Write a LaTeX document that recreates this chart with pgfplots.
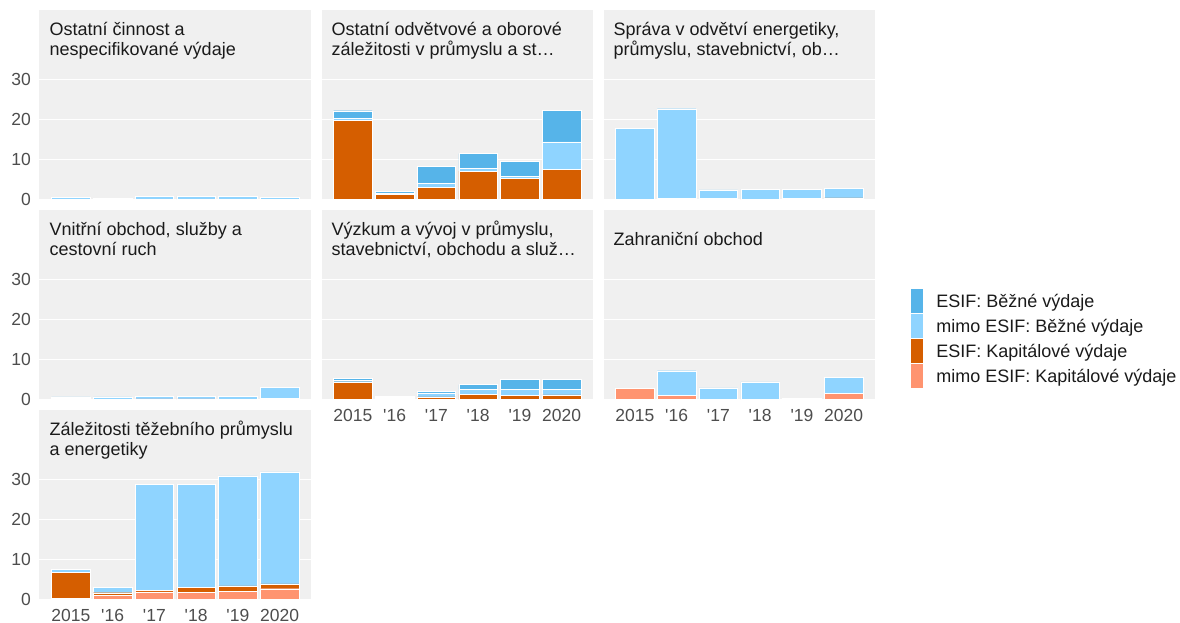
\documentclass[border=0pt]{standalone}
\usepackage{fontspec}
\setmainfont{Liberation Sans}[Ligatures=TeXOff]
\usepackage{pgfplots}
\pgfplotsset{compat=1.18}
\usepackage{pgfplotstable}

\definecolor{esifb}{HTML}{56B4E9}
\definecolor{mimob}{HTML}{8FD4FF}
\definecolor{esifk}{HTML}{D55E00}
\definecolor{mimok}{HTML}{FF9470}
\definecolor{panelbg}{HTML}{F0F0F0}
\definecolor{titlec}{HTML}{1A1A1A}
\definecolor{tickc}{HTML}{4D4D4D}

% columns: year index, mimo ESIF kapitalove, ESIF kapitalove, mimo ESIF bezne, ESIF bezne
\pgfplotstableread{
x mk ek mb eb
1 0    0 0.55 0
2 0.4  0 0    0
3 0    0 0.8  0
4 0    0 0.8  0
5 0    0 0.8  0
6 0    0 0.55 0
}\tA
\pgfplotstableread{
x mk ek mb eb
1 0 19.8 0.5  1.9
2 0 1.25 0.4  0.45
3 0 3.0  1.0  4.3
4 0 7.1  0.65 3.75
5 0 5.25 0.55 3.8
6 0 7.5  6.9  7.9
}\tB
\pgfplotstableread{
x mk ek mb eb
1 0.1  0    17.7  0
2 0.35 0    22.35 0
3 0.3  0    2.1   0
4 0.1  0    2.45  0
5 0    0.25 2.3   0
6 0    0.4  2.4   0
}\tC
\pgfplotstableread{
x mk ek mb eb
1 0.3  0 0.35 0
2 0.1  0 0.55 0
3 0.15 0 0.65 0
4 0.15 0 0.65 0
5 0.1  0 0.7  0
6 0.3  0 2.8  0
}\tD
\pgfplotstableread{
x mk ek mb eb
1 0 4.4  0.35 0.55
2 0 0.25 0.3  0.2
3 0 0.65 1.0  0.35
4 0 1.3  1.3  1.15
5 0 1.1  1.4  2.5
6 0 1.15 1.35 2.5
}\tE
\pgfplotstableread{
x mk ek mb eb
1 2.8 0 0    0
2 1.1 0 6.1  0
3 0   0 2.9  0
4 0   0 4.4  0
5 0   0 0.25 0
6 1.6 0 3.9  0
}\tF
\pgfplotstableread{
x mk ek mb eb
1 0.25 6.5  0.75  0
2 1.1  0.6  1.3   0
3 1.9  0.35 26.5  0
4 1.75 1.25 25.75 0
5 2.1  1.3  27.5  0
6 2.7  1.2  28.0  0
}\tG

\newcommand{\stackplots}[1]{%
  \addplot[fill=mimok] table[x=x,y=mk]{#1};
  \addplot[fill=esifk] table[x=x,y=ek]{#1};
  \addplot[fill=mimob] table[x=x,y=mb]{#1};
  \addplot[fill=esifb] table[x=x,y=eb]{#1};
}

\pgfplotsset{
  panel/.style={
    scale only axis, width=271.5pt, height=189.5pt,
    anchor=south west,
    xmin=0.25, xmax=6.75, ymin=0, ymax=47.4,
    ybar stacked, bar width=0.92,
    every axis plot/.append style={draw=white, line width=0.4pt},
    axis background/.style={fill=panelbg},
    axis line style={draw=none},
    ytick={0,10,20,30}, yticklabels={},
    xtick={1,2,3,4,5,6}, xticklabels={},
    ymajorgrids, grid style={white, line width=1.1pt},
    major tick length=0pt, tick style={draw=none},
    /pgf/number format/assume math mode=true,
    yticklabel style={font=\fontsize{17.5}{20}\selectfont, text=tickc, inner sep=0pt, anchor=east, xshift=-8.5pt},
    xticklabel style={font=\fontsize{17.5}{20}\selectfont, text=tickc, inner sep=0pt, anchor=north, yshift=-10pt},
  },
  yl/.style={yticklabels={0,10,20,30}},
  xl/.style={xticklabels={2015,'16,'17,'18,'19,2020}},
}

\newcommand{\ptitle}[3]{% x, baseline y (pixels from top), text
  \node[anchor=base west, inner sep=0pt, text=titlec, font=\fontsize{18}{20}\selectfont] at (#1pt,-#2pt) {#3};}

\begin{document}
\begin{tikzpicture}
\path[use as bounding box] (0pt,0pt) rectangle (1180pt,-623pt);

% row 1
\begin{axis}[panel, yl, at={(39.5pt,-199.5pt)}]
  \stackplots{\tA}
\end{axis}
\begin{axis}[panel, at={(321.5pt,-199.5pt)}]
  \stackplots{\tB}
\end{axis}
\begin{axis}[panel, at={(603.5pt,-199.5pt)}]
  \stackplots{\tC}
\end{axis}
% row 2
\begin{axis}[panel, yl, at={(39.5pt,-399.5pt)}]
  \stackplots{\tD}
\end{axis}
\begin{axis}[panel, xl, at={(321.5pt,-399.5pt)}]
  \stackplots{\tE}
\end{axis}
\begin{axis}[panel, xl, at={(603.5pt,-399.5pt)},
  legend entries={mimo ESIF: Kapitálové výdaje, ESIF: Kapitálové výdaje, mimo ESIF: Běžné výdaje, ESIF: Běžné výdaje},
  reverse legend,
  legend image code/.code={\path[#1,draw=none] (0pt,-12pt) rectangle (12pt,12pt);},
  legend cell align=left,
  legend style={at={(1.1334,0.582)}, anchor=north west, draw=none, fill=none,
    font=\fontsize{18}{20}\selectfont, text=titlec, inner sep=0pt, row sep=1pt,
    nodes={inner sep=0pt},
    /tikz/column 1/.style={column sep=13pt}},
  ]
  \stackplots{\tF}
\end{axis}
% row 3
\begin{axis}[panel, yl, xl, at={(39.5pt,-599.5pt)}]
  \stackplots{\tG}
\end{axis}

% facet titles
\ptitle{49.5}{35.5}{Ostatní činnost a}
\ptitle{49.5}{55.5}{nespecifikované výdaje}
\ptitle{331.5}{35.5}{Ostatní odvětvové a oborové}
\ptitle{331.5}{55.5}{záležitosti v průmyslu a st…}
\ptitle{613.5}{35.5}{Správa v odvětví energetiky,}
\ptitle{613.5}{55.5}{průmyslu, stavebnictví, ob…}
\ptitle{49.5}{235.5}{Vnitřní obchod, služby a}
\ptitle{49.5}{255.5}{cestovní ruch}
\ptitle{331.5}{235.5}{Výzkum a vývoj v průmyslu,}
\ptitle{331.5}{255.5}{stavebnictví, obchodu a služ…}
\ptitle{613.5}{245.5}{Zahraniční obchod}
\ptitle{49.5}{435.5}{Záležitosti těžebního průmyslu}
\ptitle{49.5}{455.5}{a energetiky}
\end{tikzpicture}
\end{document}
